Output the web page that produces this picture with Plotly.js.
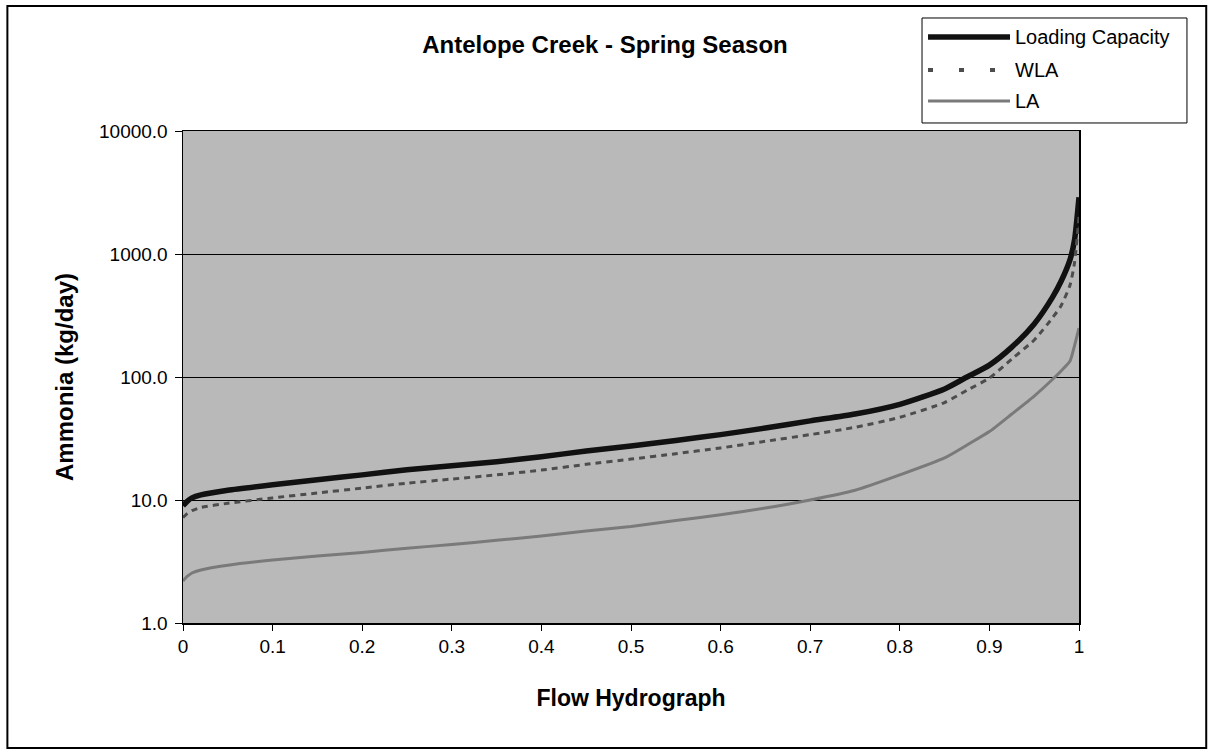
<!DOCTYPE html>
<html>
<head>
<meta charset="utf-8">
<script src="https://cdn.plot.ly/plotly-3.0.1.min.js"></script>
<style>html,body{margin:0;padding:0;background:#fff;}#chart{width:1210px;height:751px;}</style>
</head>
<body>
<div id="chart"></div>
<script>
const flowX = [0, 0.005, 0.01, 0.02, 0.05, 0.1, 0.15, 0.2, 0.25, 0.3, 0.35, 0.4, 0.45, 0.5, 0.55, 0.6, 0.65, 0.7, 0.75, 0.8, 0.85, 0.875, 0.9, 0.925, 0.95, 0.97, 0.98, 0.99, 0.995, 1.0];
const loadingCapacity = [9.0, 9.8, 10.4, 11.0, 12.0, 13.3, 14.6, 16.0, 17.6, 19.0, 20.5, 22.5, 25.0, 27.5, 30.5, 34.0, 38.5, 44.0, 50.0, 60.0, 80.0, 100, 125, 175, 270, 440, 600, 900, 1300, 2900];
const wla = [7.2, 7.8, 8.2, 8.7, 9.4, 10.4, 11.4, 12.5, 13.7, 14.8, 16.0, 17.5, 19.5, 21.5, 23.8, 26.5, 30, 34, 39, 47, 62, 78, 98, 140, 200, 300, 380, 560, 850, 2000];
const la = [2.2, 2.4, 2.55, 2.7, 2.95, 3.25, 3.5, 3.75, 4.05, 4.35, 4.7, 5.1, 5.6, 6.1, 6.8, 7.6, 8.6, 10.0, 12.0, 16, 22, 28, 36, 50, 70, 95, 112, 135, 180, 250];
const seriesNames = ["Loading Capacity", "WLA", "LA"];
const yTickVals = [1, 10, 100, 1000, 10000];
const yTickText = ["1.0", "10.0", "100.0", "1000.0", "10000.0"];
const xTickVals = [0, 0.1, 0.2, 0.3, 0.4, 0.5, 0.6, 0.7, 0.8, 0.9, 1];
const xTickText = ["0", "0.1", "0.2", "0.3", "0.4", "0.5", "0.6", "0.7", "0.8", "0.9", "1"];

const FONT = "Liberation Sans, Arial, sans-serif";
const lineStyles = [
  {color: "#111111", width: 5.5},
  {color: "#4d4d4d", width: 3, dash: "6px,5px"},
  {color: "#7a7a7a", width: 3}
];
const legendDash = [null, "5px,26px", null];
const seriesValues = [loadingCapacity, wla, la];

const traces = seriesValues.map((vals, i) => ({
  x: flowX, y: vals, name: seriesNames[i], mode: "lines", showlegend: false,
  line: Object.assign({shape: "spline", smoothing: 0.6}, lineStyles[i])
}));

// custom legend (decoration only): box, sample lines, labels
const legX0 = 0.8248, legX1 = 1.1205, legY0 = 1.0163, legY1 = 1.2297;
const rowY = [1.191, 1.124, 1.061];
const sampleX0 = 0.8315, sampleX1 = 0.9230, textX = 0.9263;
const shapes = [
  {type: "rect", xref: "paper", yref: "paper", x0: -0.196, x1: 1.142, y0: -0.254, y1: 1.254, line: {color: "#000", width: 2}, fillcolor: "rgba(0,0,0,0)", layer: "below"},
  {type: "rect", xref: "paper", yref: "paper", x0: legX0, x1: legX1, y0: legY0, y1: legY1, line: {color: "#000", width: 1}, fillcolor: "#ffffff", layer: "above"}
];
const annotations = [];
seriesNames.forEach((nm, i) => {
  const ln = {color: lineStyles[i].color, width: lineStyles[i].width};
  if (legendDash[i]) { ln.dash = legendDash[i]; ln.width = 4; }
  shapes.push({type: "line", xref: "paper", yref: "paper", x0: sampleX0, x1: sampleX1, y0: rowY[i], y1: rowY[i], line: ln, layer: "above"});
  annotations.push({xref: "paper", yref: "paper", x: textX, y: rowY[i], xanchor: "left", yanchor: "middle", showarrow: false, text: nm, font: {family: FONT, size: 20, color: "#000"}});
});

const layout = {
  width: 1210, height: 751,
  margin: {l: 183, r: 131, t: 131, b: 128},
  paper_bgcolor: "#ffffff",
  plot_bgcolor: "#b9b9b9",
  font: {family: FONT, color: "#000", size: 19},
  title: {text: "<b>Antelope Creek - Spring Season</b>", x: 0.5, xref: "container", y: 0.941, yref: "container", yanchor: "middle", font: {family: FONT, size: 24, color: "#000"}},
  xaxis: {
    range: [0, 1], tickvals: xTickVals, ticktext: xTickText,
    ticks: "outside", ticklen: 6, tickcolor: "#000",
    showline: true, linecolor: "#000", linewidth: 1.5, mirror: true,
    showgrid: false, zeroline: false,
    tickfont: {family: FONT, size: 19, color: "#000"},
    title: {text: "<b>Flow Hydrograph</b>", font: {family: FONT, size: 23, color: "#000"}, standoff: 33}
  },
  yaxis: {
    type: "log", range: [0, 4], tickvals: yTickVals, ticktext: yTickText,
    ticks: "outside", ticklen: 7, tickcolor: "#000", ticklabelstandoff: 3,
    showline: true, linecolor: "#000", linewidth: 1.5, mirror: true,
    showgrid: true, gridcolor: "#000", gridwidth: 1, zeroline: false,
    tickfont: {family: FONT, size: 19, color: "#000"},
    title: {text: "<b>Ammonia (kg/day)</b>", font: {family: FONT, size: 24, color: "#000"}, standoff: 18}
  },
  showlegend: false,
  shapes: shapes,
  annotations: annotations
};
Plotly.newPlot("chart", traces, layout, {displayModeBar: false, staticPlot: true});
</script>
</body>
</html>
